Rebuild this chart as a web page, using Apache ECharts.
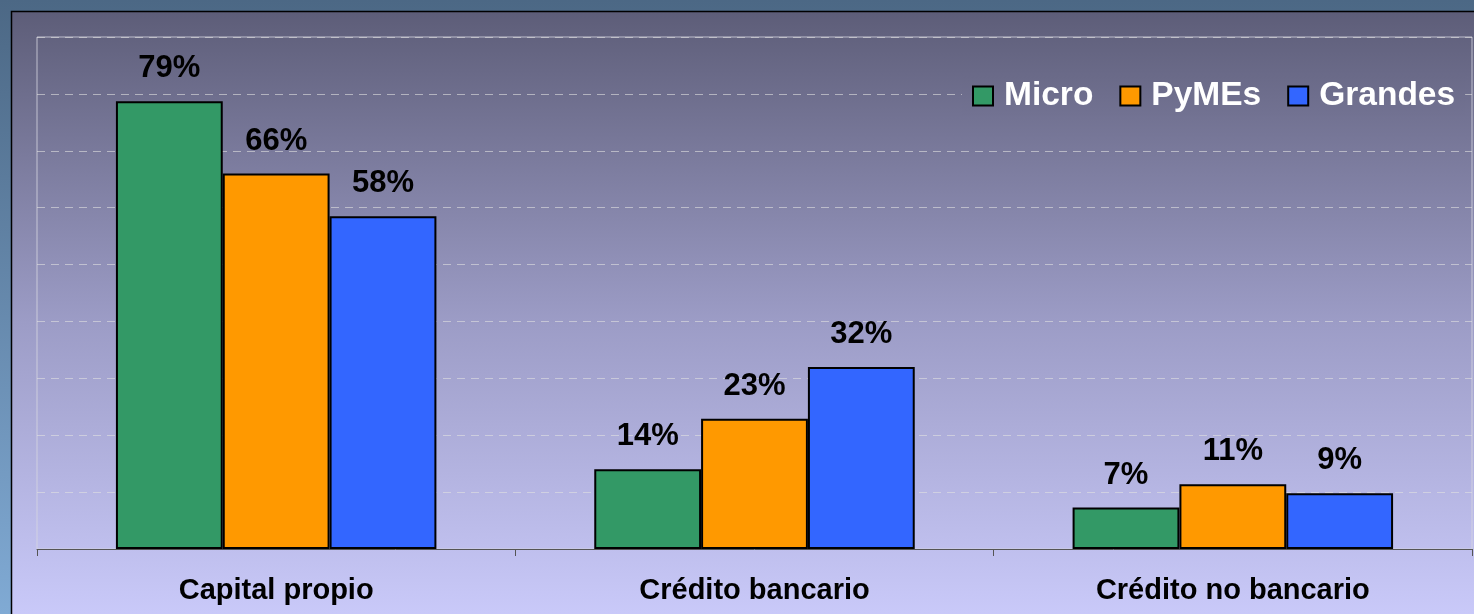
<!DOCTYPE html>
<html>
<head>
<meta charset="utf-8">
<script src="https://cdn.jsdelivr.net/npm/echarts@6/dist/echarts.min.js"></script>
<style>
    html, body {margin: 0; padding: 0; background: #5a7898;}
    #ET1 {width: 1474px; height: 614px;}
</style>
</head>
<body>
<div id="ET1"></div>
<script>
// categorias y valores
var categories = ['Capital propio', 'Crédito bancario', 'Crédito no bancario'];
var seriesNames = ['Micro', 'PyMEs', 'Grandes'];
var microValues = [78.7, 14.0, 7.3];
var pymesValues = [66.0, 22.9, 11.4];
var grandesValues = [58.5, 32.0, 9.8];
// textos impresos sobre las barras
var microLabels = [79, 14, 7];
var pymesLabels = [66, 23, 11];
var grandesLabels = [58, 32, 9];

~function () {
    var myChart = echarts.init(ET1);
    var font = 'Liberation Sans, Arial, sans-serif';

    function bar(name, values, labels, color) {
        return {
            name: name,
            type: 'bar',
            barGap: 0,
            barCategoryGap: '33%',
            data: values,
            itemStyle: {color: color, borderColor: '#000', borderWidth: 2},
            label: {
                show: true,
                position: 'top',
                distance: 17,
                color: '#000',
                fontFamily: font,
                fontWeight: 'bold',
                fontSize: 31,
                formatter: function (p) {
                    return labels[p.dataIndex] + '%';
                }
            }
        };
    }

    var option = {
        backgroundColor: '#5a7898',
        animation: false,
        graphic: [
            {
                type: 'rect', z: -10, silent: true,
                shape: {x: 0, y: 0, width: 1474, height: 614},
                style: {
                    fill: {
                        type: 'linear', x: 0, y: 0, x2: 0, y2: 1,
                        colorStops: [{offset: 0, color: '#4c6885'}, {offset: 1, color: '#80aad4'}]
                    }
                }
            },
            {
                type: 'rect', z: -9, silent: true,
                shape: {x: 11.5, y: 11.5, width: 1480, height: 620},
                style: {
                    stroke: '#000', lineWidth: 1.5,
                    fill: {
                        type: 'linear', x: 0, y: 0, x2: 0, y2: 1,
                        colorStops: [
                            {offset: 0, color: '#5d5d78'},
                            {offset: 0.5, color: '#9c9cc6'},
                            {offset: 1, color: '#ccccfc'}
                        ]
                    }
                }
            }
        ],
        legend: {
            data: seriesNames,
            left: 962,
            top: 76,
            padding: [3, 10, 3, 10],
            itemGap: 26,
            itemWidth: 20,
            itemHeight: 19,
            icon: 'rect',
            backgroundColor: {
                type: 'linear', x: 0, y: 0, x2: 0, y2: 1,
                colorStops: [{offset: 0, color: '#6a6a88'}, {offset: 1, color: '#727292'}]
            },
            itemStyle: {borderColor: '#000', borderWidth: 2},
            textStyle: {
                color: '#fff',
                fontFamily: font,
                fontWeight: 'bold',
                fontSize: 33.5,
                lineHeight: 34,
                padding: [0, 0, 0, 6]
            }
        },
        grid: {
            left: 37,
            right: 2,
            top: 37,
            bottom: 65,
            show: true,
            borderColor: 'rgba(215,215,225,0.8)',
            borderWidth: 1,
            containLabel: false
        },
        xAxis: [
            {
                type: 'category',
                data: categories,
                axisLine: {lineStyle: {color: '#555', width: 1}},
                axisTick: {show: true, length: 7, lineStyle: {color: '#555'}},
                axisLabel: {
                    margin: 27,
                    color: '#000',
                    fontFamily: font,
                    fontWeight: 'bold',
                    fontSize: 29
                }
            }
        ],
        yAxis: [
            {
                type: 'value',
                min: 0,
                max: 90,
                interval: 10,
                axisLabel: {show: false},
                axisLine: {show: false},
                axisTick: {show: false},
                splitLine: {
                    show: true,
                    lineStyle: {color: 'rgba(225,225,225,0.6)', type: [8, 6], width: 1}
                }
            }
        ],
        series: [
            bar('Micro', microValues, microLabels, '#339966'),
            bar('PyMEs', pymesValues, pymesLabels, '#ff9900'),
            bar('Grandes', grandesValues, grandesLabels, '#3366ff')
        ]
    };
    myChart.setOption(option);
}();
</script>
</body>
</html>
